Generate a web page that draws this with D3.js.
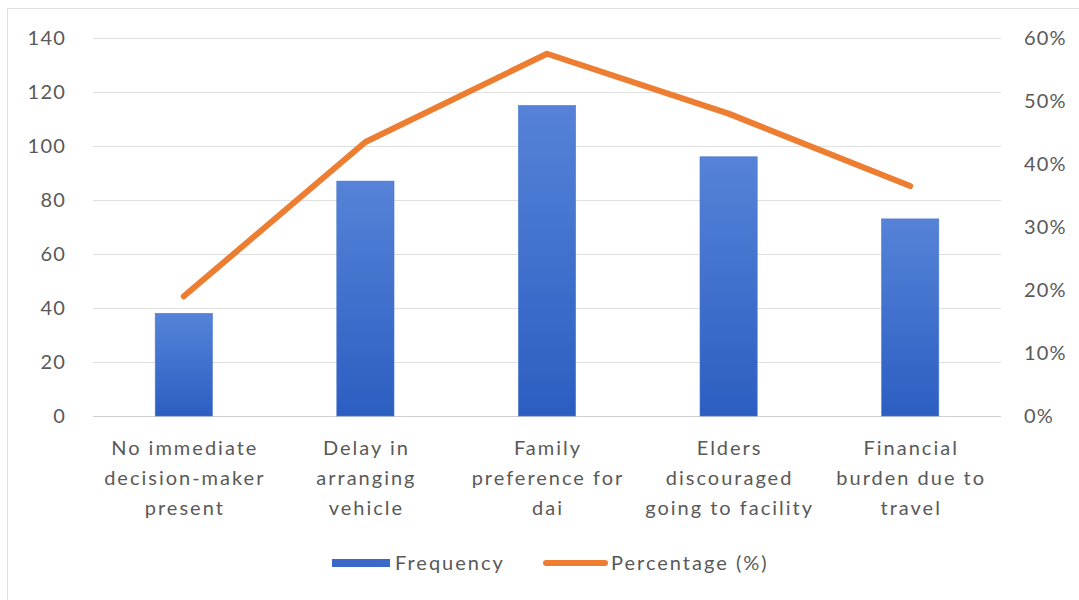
<!DOCTYPE html>
<html>
<head>
<meta charset="utf-8">
<script src="https://cdn.jsdelivr.net/npm/d3@7"></script>
<style>
  body { margin: 0; background: #fff; }
  svg text { font-family: Lato, "Open Sans", sans-serif; fill: #595959; }
</style>
</head>
<body>
<main></main>
<script>
const categories = [
  ["No immediate", "decision-maker", "present"],
  ["Delay in", "arranging", "vehicle"],
  ["Family", "preference for", "dai"],
  ["Elders", "discouraged", "going to facility"],
  ["Financial", "burden due to", "travel"]
];
const frequency = [38, 87, 115, 96, 73];
const percentage = [19, 43.5, 57.5, 48, 36.5];
const leftTicks = [0, 20, 40, 60, 80, 100, 120, 140];
const rightTicks = [0, 10, 20, 30, 40, 50, 60];

const width = 1079, height = 600;
const margin = { top: 38, right: 78, bottom: 184, left: 93 };

const svg = d3.select("main")
  .append("svg")
  .attr("width", width)
  .attr("height", height);

// faint frame
svg.append("rect")
  .attr("x", 7.5).attr("y", 8.5)
  .attr("width", width).attr("height", height)
  .style("fill", "none")
  .style("stroke", "#e2e2e2");

const x = d3.scaleBand()
  .domain(d3.range(categories.length))
  .range([margin.left, width - margin.right])
  .paddingInner(0.685)
  .paddingOuter(0.3425);

const y = d3.scaleLinear().domain([0, 140]).range([height - margin.bottom, margin.top]);
const y2 = d3.scaleLinear().domain([0, 60]).range([height - margin.bottom, margin.top]);

// gridlines
svg.append("g")
  .selectAll("line")
  .data(leftTicks).enter()
  .append("line")
    .attr("x1", margin.left)
    .attr("x2", width - margin.right)
    .attr("y1", (d) => Math.round(y(d)) + 0.5)
    .attr("y2", (d) => Math.round(y(d)) + 0.5)
    .style("stroke", (d) => d === 0 ? "#d0d0d0" : "#e0e0e0")
    .style("stroke-width", 1.2);

// left axis labels
svg.append("g")
  .selectAll("text")
  .data(leftTicks).enter()
  .append("text")
    .attr("x", 66)
    .attr("y", (d) => y(d))
    .attr("dy", "0.35em")
    .attr("text-anchor", "end")
    .style("font-size", "20px")
    .style("letter-spacing", "1.2px")
    .text((d) => d);

// right axis labels
svg.append("g")
  .selectAll("text")
  .data(rightTicks).enter()
  .append("text")
    .attr("x", 1024)
    .attr("y", (d) => y2(d))
    .attr("dy", "0.35em")
    .attr("text-anchor", "start")
    .style("font-size", "20px")
    .style("letter-spacing", "1.2px")
    .text((d) => d + "%");

// bar gradient
const defs = svg.append("defs");
const grad = defs.append("linearGradient")
  .attr("id", "barGrad")
  .attr("x1", 0).attr("y1", 0).attr("x2", 0).attr("y2", 1);
grad.append("stop").attr("offset", "0%").attr("stop-color", "#5683d8");
grad.append("stop").attr("offset", "100%").attr("stop-color", "#2c5ec2");

// bars
svg.append("g")
  .selectAll("rect")
  .data(frequency).enter()
  .append("rect")
    .attr("x", (d, i) => x(i))
    .attr("y", (d) => y(d))
    .attr("width", x.bandwidth())
    .attr("height", (d) => y(0) - y(d))
    .style("fill", "url(#barGrad)")
    .style("stroke", "#4a76cc")
    .style("stroke-width", 0.6);

// percentage line
const line = d3.line()
  .x((d, i) => x(i) + x.bandwidth() / 2)
  .y((d) => y2(d));

svg.append("path")
  .datum(percentage)
  .attr("d", line)
  .style("fill", "none")
  .style("stroke", "#ed7d31")
  .style("stroke-width", 6)
  .style("stroke-linecap", "round")
  .style("stroke-linejoin", "round");

// category labels
svg.append("g")
  .selectAll("text")
  .data(categories).enter()
  .append("text")
    .attr("text-anchor", "middle")
    .style("font-size", "20px")
    .style("letter-spacing", "2px")
  .selectAll("tspan")
    .data((d, i) => d.map((t) => ({ t, i }))).enter()
  .append("tspan")
    .attr("x", (d) => x(d.i) + x.bandwidth() / 2 + 1)
    .attr("y", (d, j) => 455 + j * 30)
    .text((d) => d.t);

// legend
const legend = svg.append("g");
legend.append("rect")
  .attr("x", 332).attr("y", 559)
  .attr("width", 58).attr("height", 8)
  .style("fill", "#3c69c9");
legend.append("text")
  .attr("x", 395).attr("y", 563)
  .attr("dy", "0.35em")
  .style("font-size", "20px")
  .style("letter-spacing", "2px")
  .text("Frequency");
legend.append("line")
  .attr("x1", 546).attr("x2", 605)
  .attr("y1", 563).attr("y2", 563)
  .style("stroke", "#ed7d31")
  .style("stroke-width", 6)
  .style("stroke-linecap", "round");
legend.append("text")
  .attr("x", 611).attr("y", 563)
  .attr("dy", "0.35em")
  .style("font-size", "20px")
  .style("letter-spacing", "2px")
  .text("Percentage (%)");
</script>
</body>
</html>
